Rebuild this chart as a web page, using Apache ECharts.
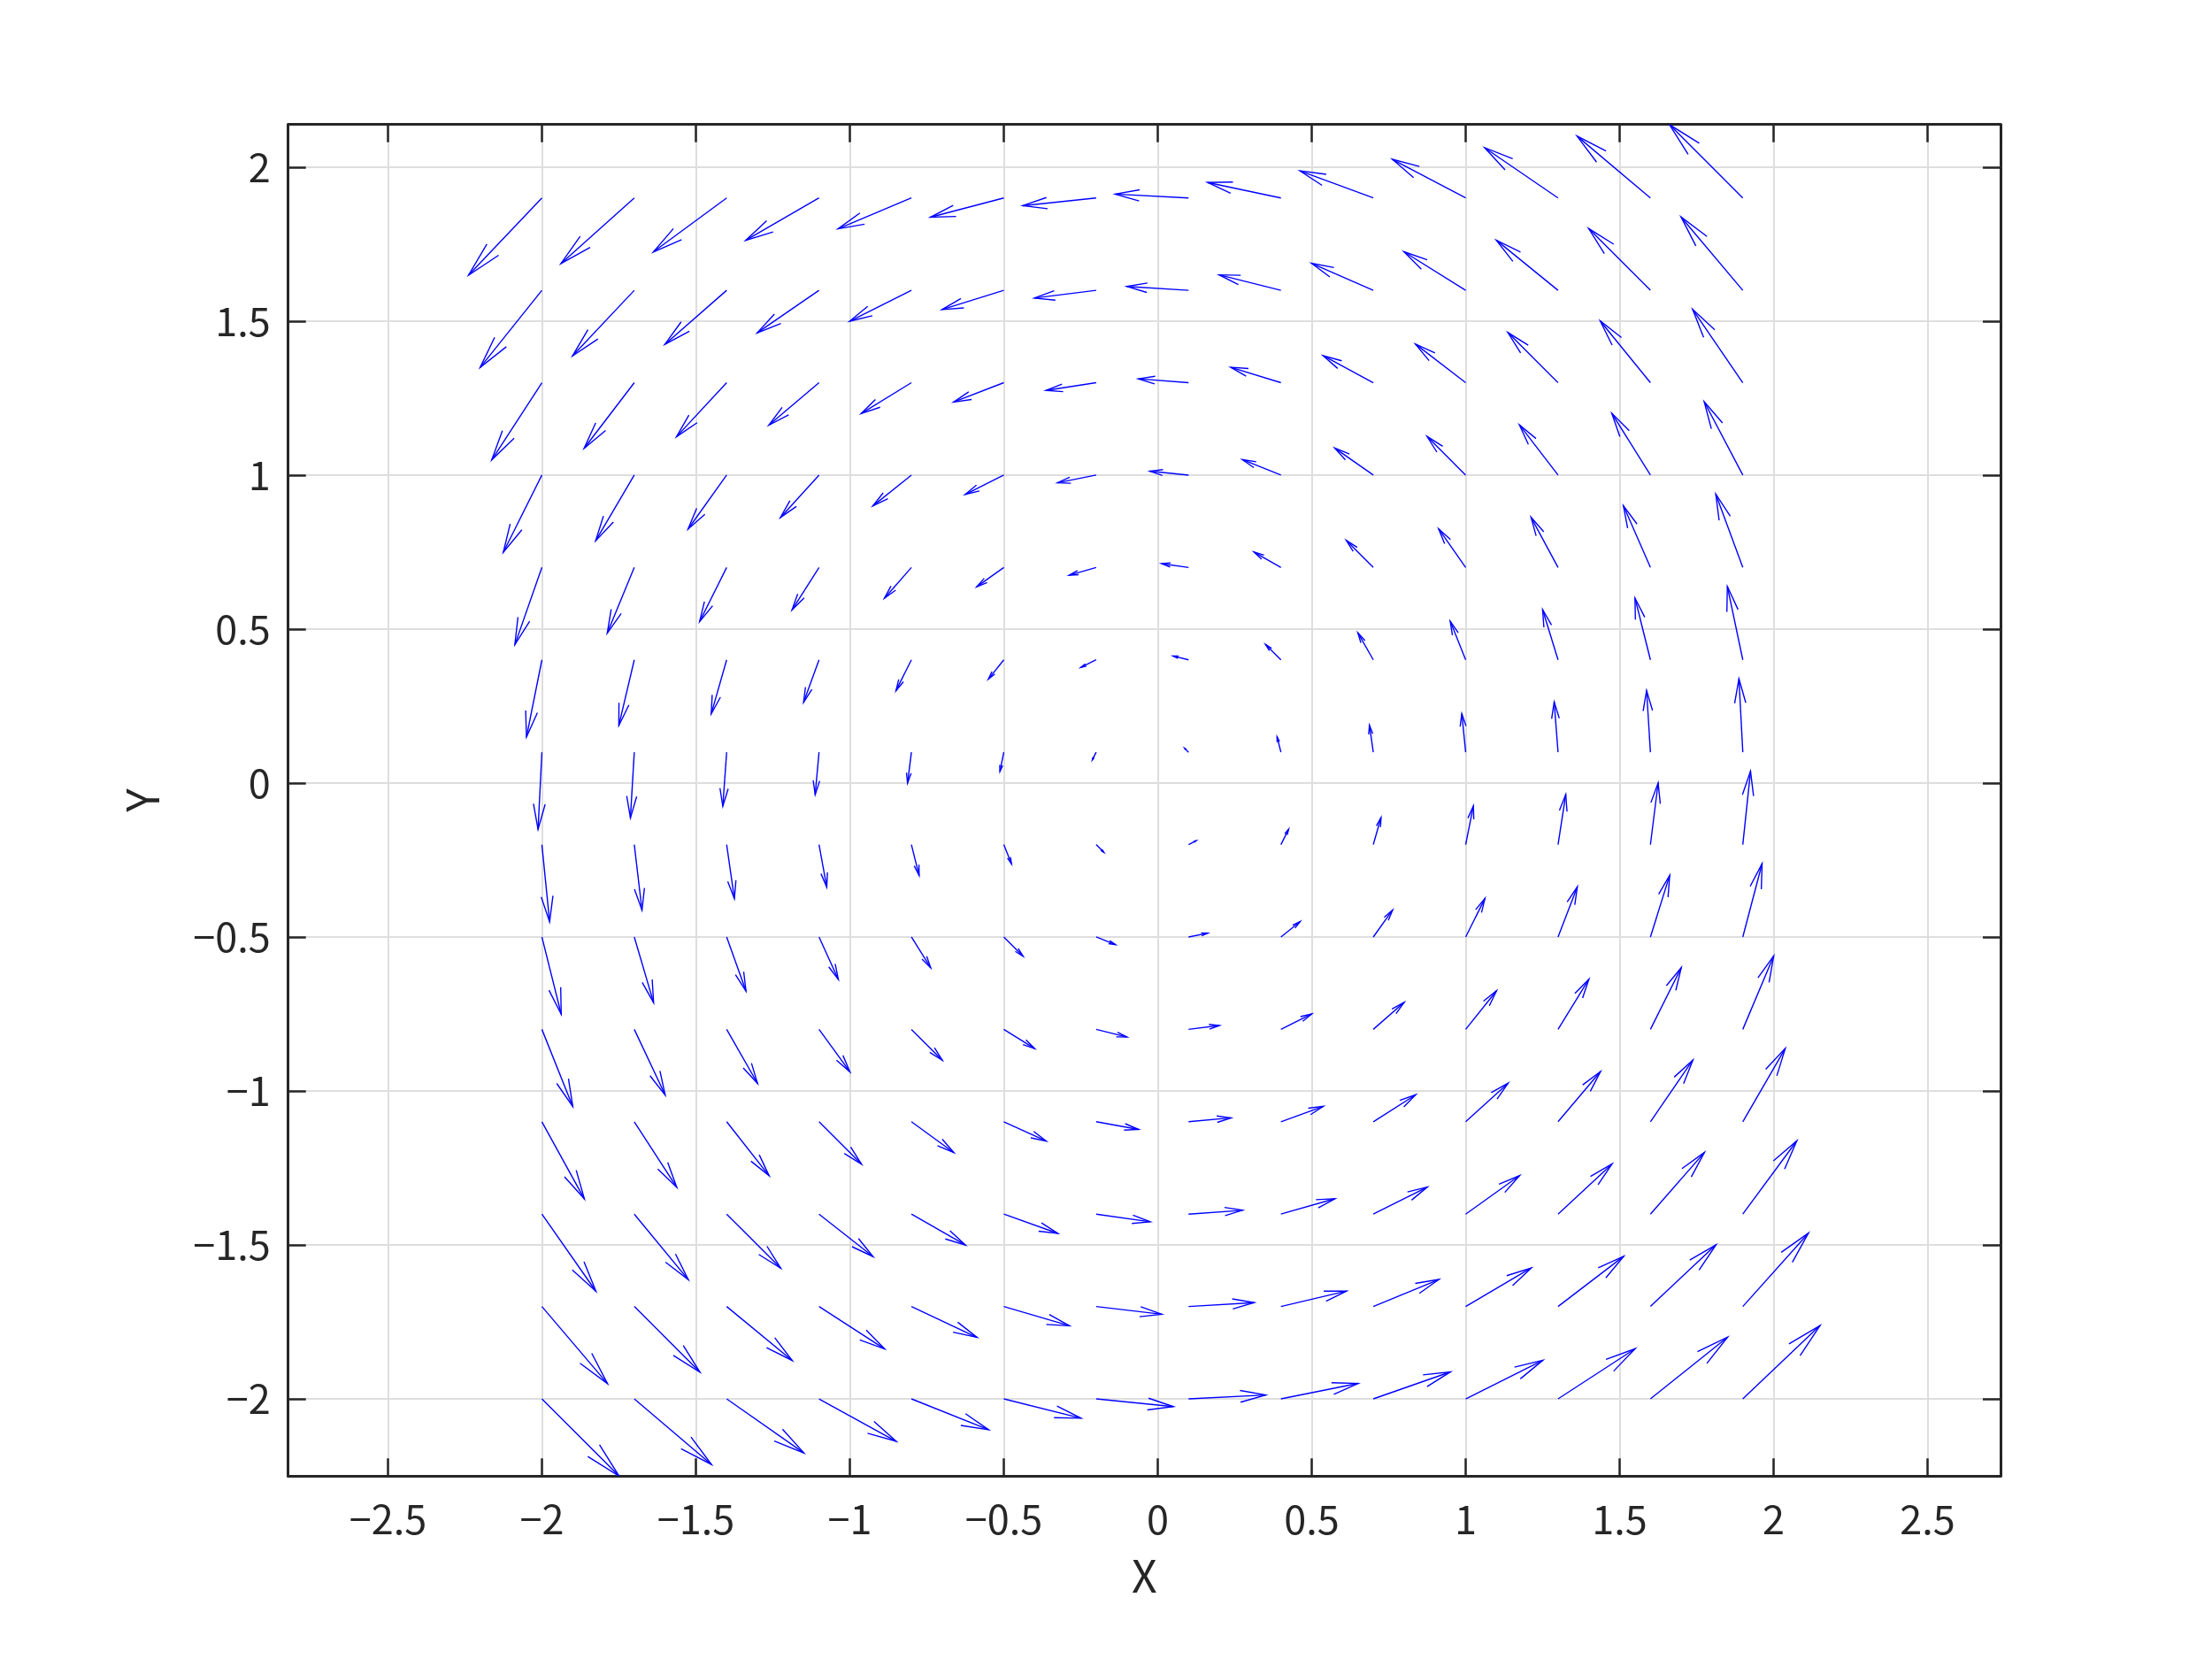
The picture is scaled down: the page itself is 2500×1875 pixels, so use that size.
<!DOCTYPE html>
<html>
<head>
<meta charset="utf-8">
<script src="https://cdn.jsdelivr.net/npm/echarts@6/dist/echarts.min.js"></script>
<style>
html,body{margin:0;padding:0;background:#fff;}
#chart{width:2500px;height:1875px;}
</style>
</head>
<body>
<div id="chart"></div>
<script>
// Grid positions of the arrows
const X = [-2, -1.7, -1.4, -1.1, -0.8, -0.5, -0.2, 0.1, 0.4, 0.7, 1.0, 1.3, 1.6, 1.9];
const Y = [-2, -1.7, -1.4, -1.1, -0.8, -0.5, -0.2, 0.1, 0.4, 0.7, 1.0, 1.3, 1.6, 1.9];

// Horizontal components (row = Y value, column = X value)
const U = [
  [2, 2, 2, 2, 2, 2, 2, 2, 2, 2, 2, 2, 2, 2],
  [1.7, 1.7, 1.7, 1.7, 1.7, 1.7, 1.7, 1.7, 1.7, 1.7, 1.7, 1.7, 1.7, 1.7],
  [1.4, 1.4, 1.4, 1.4, 1.4, 1.4, 1.4, 1.4, 1.4, 1.4, 1.4, 1.4, 1.4, 1.4],
  [1.1, 1.1, 1.1, 1.1, 1.1, 1.1, 1.1, 1.1, 1.1, 1.1, 1.1, 1.1, 1.1, 1.1],
  [0.8, 0.8, 0.8, 0.8, 0.8, 0.8, 0.8, 0.8, 0.8, 0.8, 0.8, 0.8, 0.8, 0.8],
  [0.5, 0.5, 0.5, 0.5, 0.5, 0.5, 0.5, 0.5, 0.5, 0.5, 0.5, 0.5, 0.5, 0.5],
  [0.2, 0.2, 0.2, 0.2, 0.2, 0.2, 0.2, 0.2, 0.2, 0.2, 0.2, 0.2, 0.2, 0.2],
  [-0.1, -0.1, -0.1, -0.1, -0.1, -0.1, -0.1, -0.1, -0.1, -0.1, -0.1, -0.1, -0.1, -0.1],
  [-0.4, -0.4, -0.4, -0.4, -0.4, -0.4, -0.4, -0.4, -0.4, -0.4, -0.4, -0.4, -0.4, -0.4],
  [-0.7, -0.7, -0.7, -0.7, -0.7, -0.7, -0.7, -0.7, -0.7, -0.7, -0.7, -0.7, -0.7, -0.7],
  [-1.0, -1.0, -1.0, -1.0, -1.0, -1.0, -1.0, -1.0, -1.0, -1.0, -1.0, -1.0, -1.0, -1.0],
  [-1.3, -1.3, -1.3, -1.3, -1.3, -1.3, -1.3, -1.3, -1.3, -1.3, -1.3, -1.3, -1.3, -1.3],
  [-1.6, -1.6, -1.6, -1.6, -1.6, -1.6, -1.6, -1.6, -1.6, -1.6, -1.6, -1.6, -1.6, -1.6],
  [-1.9, -1.9, -1.9, -1.9, -1.9, -1.9, -1.9, -1.9, -1.9, -1.9, -1.9, -1.9, -1.9, -1.9]
];

// Vertical components (row = Y value, column = X value)
const V = [
  [-2, -1.7, -1.4, -1.1, -0.8, -0.5, -0.2, 0.1, 0.4, 0.7, 1.0, 1.3, 1.6, 1.9],
  [-2, -1.7, -1.4, -1.1, -0.8, -0.5, -0.2, 0.1, 0.4, 0.7, 1.0, 1.3, 1.6, 1.9],
  [-2, -1.7, -1.4, -1.1, -0.8, -0.5, -0.2, 0.1, 0.4, 0.7, 1.0, 1.3, 1.6, 1.9],
  [-2, -1.7, -1.4, -1.1, -0.8, -0.5, -0.2, 0.1, 0.4, 0.7, 1.0, 1.3, 1.6, 1.9],
  [-2, -1.7, -1.4, -1.1, -0.8, -0.5, -0.2, 0.1, 0.4, 0.7, 1.0, 1.3, 1.6, 1.9],
  [-2, -1.7, -1.4, -1.1, -0.8, -0.5, -0.2, 0.1, 0.4, 0.7, 1.0, 1.3, 1.6, 1.9],
  [-2, -1.7, -1.4, -1.1, -0.8, -0.5, -0.2, 0.1, 0.4, 0.7, 1.0, 1.3, 1.6, 1.9],
  [-2, -1.7, -1.4, -1.1, -0.8, -0.5, -0.2, 0.1, 0.4, 0.7, 1.0, 1.3, 1.6, 1.9],
  [-2, -1.7, -1.4, -1.1, -0.8, -0.5, -0.2, 0.1, 0.4, 0.7, 1.0, 1.3, 1.6, 1.9],
  [-2, -1.7, -1.4, -1.1, -0.8, -0.5, -0.2, 0.1, 0.4, 0.7, 1.0, 1.3, 1.6, 1.9],
  [-2, -1.7, -1.4, -1.1, -0.8, -0.5, -0.2, 0.1, 0.4, 0.7, 1.0, 1.3, 1.6, 1.9],
  [-2, -1.7, -1.4, -1.1, -0.8, -0.5, -0.2, 0.1, 0.4, 0.7, 1.0, 1.3, 1.6, 1.9],
  [-2, -1.7, -1.4, -1.1, -0.8, -0.5, -0.2, 0.1, 0.4, 0.7, 1.0, 1.3, 1.6, 1.9],
  [-2, -1.7, -1.4, -1.1, -0.8, -0.5, -0.2, 0.1, 0.4, 0.7, 1.0, 1.3, 1.6, 1.9]
];

const X_LABEL = 'X';
const Y_LABEL = 'Y';

// display settings
const ARROW_SCALE = 0.1254;
const HEAD_A = 0.33, HEAD_B = 0.23;
const X_MIN = -2.824, X_MAX = 2.737;
const Y_MIN = -2.2508, Y_MAX = 2.1385;
const FONT = '"Noto Sans CJK SC", "Noto Sans", sans-serif';
const AX = '#262626';

const data = [];
for (let i = 0; i < Y.length; i++) {
  for (let j = 0; j < X.length; j++) {
    data.push([X[j], Y[i], U[i][j], V[i][j]]);
  }
}

function fmt(v) {
  const q = v / 0.5;
  if (Math.abs(q - Math.round(q)) > 1e-6) return '';
  const s = String(Math.round(v * 10) / 10);
  return s.replace('-', '\u2212');
}

function renderArrow(params, api) {
  const x = api.value(0), y = api.value(1);
  const u = api.value(2) * ARROW_SCALE, v = api.value(3) * ARROW_SCALE;
  const tx = x + u, ty = y + v;
  const h1 = [tx - HEAD_A * (u + HEAD_B * v), ty - HEAD_A * (v - HEAD_B * u)];
  const h2 = [tx - HEAD_A * (u - HEAD_B * v), ty - HEAD_A * (v + HEAD_B * u)];
  const p0 = api.coord([x, y]);
  const p1 = api.coord([tx, ty]);
  const q1 = api.coord(h1);
  const q2 = api.coord(h2);
  const st = { stroke: '#0000ff', lineWidth: 1.4, fill: null };
  return {
    type: 'group',
    children: [
      { type: 'polyline', shape: { points: [p0, p1] }, style: st },
      { type: 'polyline', shape: { points: [q1, p1, q2] }, style: st }
    ]
  };
}

const baseAxis = {
  type: 'value',
  minInterval: 0.5,
  maxInterval: 0.5,
  splitNumber: 10,
  axisLine: { show: true, onZero: false, lineStyle: { color: AX, width: 3 } },
  axisTick: { show: true, inside: true, length: 20, lineStyle: { color: AX, width: 2.5 } }
};

const chart = echarts.init(document.getElementById('chart'), null, { renderer: 'canvas' });
chart.setOption({
  backgroundColor: '#ffffff',
  animation: false,
  grid: { left: 325.7, top: 140.7, width: 1935.3, height: 1527.6, containLabel: false },
  xAxis: [
    Object.assign({}, baseAxis, {
      position: 'bottom', min: X_MIN, max: X_MAX,
      name: X_LABEL, nameLocation: 'middle', nameGap: 88,
      nameTextStyle: { color: AX, fontSize: 50, fontFamily: FONT },
      axisLabel: { color: AX, fontSize: 45, fontFamily: FONT, margin: 26, formatter: fmt },
      splitLine: { show: true, lineStyle: { color: '#dedede', width: 2 } }
    }),
    Object.assign({}, baseAxis, {
      position: 'top', min: X_MIN, max: X_MAX,
      axisLabel: { show: false }, splitLine: { show: false }
    })
  ],
  yAxis: [
    Object.assign({}, baseAxis, {
      position: 'left', min: Y_MIN, max: Y_MAX,
      name: Y_LABEL, nameLocation: 'middle', nameGap: 140,
      nameTextStyle: { color: AX, fontSize: 50, fontFamily: FONT },
      axisLabel: { color: AX, fontSize: 45, fontFamily: FONT, margin: 20, formatter: fmt },
      splitLine: { show: true, lineStyle: { color: '#dedede', width: 2 } }
    }),
    Object.assign({}, baseAxis, {
      position: 'right', min: Y_MIN, max: Y_MAX,
      axisLabel: { show: false }, splitLine: { show: false }
    })
  ],
  series: [{
    type: 'custom',
    xAxisIndex: 0,
    yAxisIndex: 0,
    clip: true,
    encode: { x: 0, y: 1 },
    renderItem: renderArrow,
    data: data,
    silent: true
  }]
});
</script>
</body>
</html>
